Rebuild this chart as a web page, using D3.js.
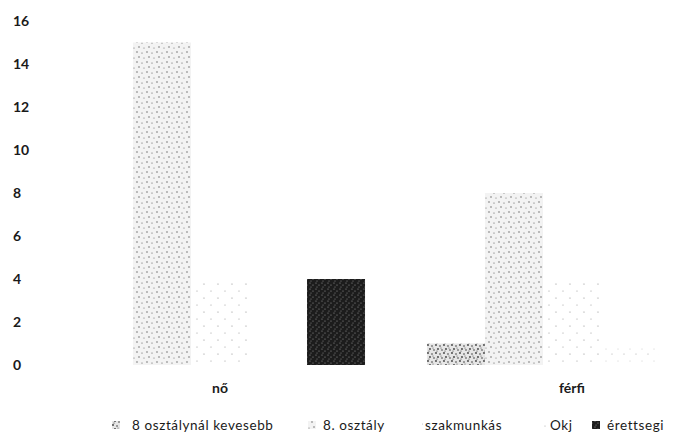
<!DOCTYPE html>
<html>
<head>
<meta charset="utf-8">
<script src="https://cdn.jsdelivr.net/npm/d3@7"></script>
<style>
  html, body { margin: 0; padding: 0; background: #fff; }
  svg { display: block; }
  text { font-family: Lato, "Open Sans", sans-serif; fill: #1a1a1a; }
</style>
</head>
<body>
<svg id="chart" width="675" height="436"></svg>
<script>
// ---- data ----
const categories = ["nő", "férfi"];
const seriesNames = ["8 osztálynál kevesebb", "8. osztály", "szakmunkás", "Okj", "érettsegi"];
const valuesNo    = [0, 15, 4, 0, 4];
const valuesFerfi = [1, 8, 4, 1, 0];
const yTicks = [0, 2, 4, 6, 8, 10, 12, 14, 16];

const table = categories.map((c, i) => ({
  cat: c,
  vals: seriesNames.map((s, j) => ({ series: s, value: (i === 0 ? valuesNo : valuesFerfi)[j] }))
}));

const svg = d3.select("#chart");
const defs = svg.append("defs");

// speckle patterns (deterministic tiles)
function speckle(id, bg, dot, tile, dots) {
  const p = defs.append("pattern").attr("id", id)
    .attr("patternUnits", "userSpaceOnUse").attr("width", tile).attr("height", tile);
  p.append("rect").attr("width", tile).attr("height", tile).attr("fill", bg);
  dots.forEach(d => p.append("circle").attr("cx", d[0]).attr("cy", d[1]).attr("r", d[2]).attr("fill", dot));
}
speckle("p0", "#e6e6e6", "#3a3a3a", 8, [[1,1,0.9],[5,2,0.8],[3,5,0.9],[7,6,0.8],[2,7,0.6],[6,4,0.5]]);
speckle("p1", "#f3f3f3", "#555", 10, [[2,2,0.7],[7,3,0.6],[4,7,0.7],[9,8,0.5]]);
speckle("p2", "#ffffff", "#888", 14, [[3,4,0.6],[10,11,0.5]]);
speckle("p3", "#ffffff", "#999", 12, [[5,6,0.5],[11,1,0.4]]);
speckle("p4", "#1c1c1c", "#9a9a9a", 6, [[1,1,0.6],[4,3,0.6],[2,5,0.5]]);
const fills = ["url(#p0)", "url(#p1)", "url(#p2)", "url(#p3)", "url(#p4)"];

// ---- scales ----
const x0 = d3.scaleBand().domain(categories).range([44, 748])
  .paddingInner(0.176).paddingOuter(0.088);
const x1 = d3.scaleBand().domain(seriesNames).range([0, x0.bandwidth()]);
const y = d3.scaleLinear().domain([0, 16]).range([365, 21]);

// ---- y labels ----
svg.append("g").selectAll("text").data(yTicks).join("text")
  .attr("x", 13).attr("y", d => y(d)).attr("dy", "0.36em")
  .attr("font-size", 14).attr("font-weight", 700)
  .text(d => d);

// ---- bars ----
const groups = svg.append("g").selectAll("g").data(table).join("g")
  .attr("transform", d => `translate(${x0(d.cat)},0)`);
groups.selectAll("rect").data(d => d.vals).join("rect")
  .attr("x", d => x1(d.series))
  .attr("width", x1.bandwidth())
  .attr("y", d => y(d.value))
  .attr("height", d => y(0) - y(d.value))
  .attr("fill", (d, i) => fills[i]);

// ---- category labels ----
svg.append("g").selectAll("text").data(categories).join("text")
  .attr("x", d => x0(d) + x0.bandwidth() / 2)
  .attr("y", 393)
  .attr("text-anchor", "middle")
  .attr("font-size", 14).attr("font-weight", 700)
  .text(d => d);

// ---- legend ----
const legendX = [112, 308, 415, 540, 592];
const legendTextX = [132, 323, 425, 550, 607];
const lg = svg.append("g").selectAll("g").data(seriesNames).join("g");
lg.append("rect")
  .attr("x", (d, i) => legendX[i]).attr("y", 421)
  .attr("width", 8).attr("height", 8)
  .attr("fill", (d, i) => fills[i]);
lg.append("text")
  .attr("x", (d, i) => legendTextX[i]).attr("y", 430)
  .attr("font-size", 13.5).attr("letter-spacing", 0.6)
  .text(d => d);
</script>
</body>
</html>
